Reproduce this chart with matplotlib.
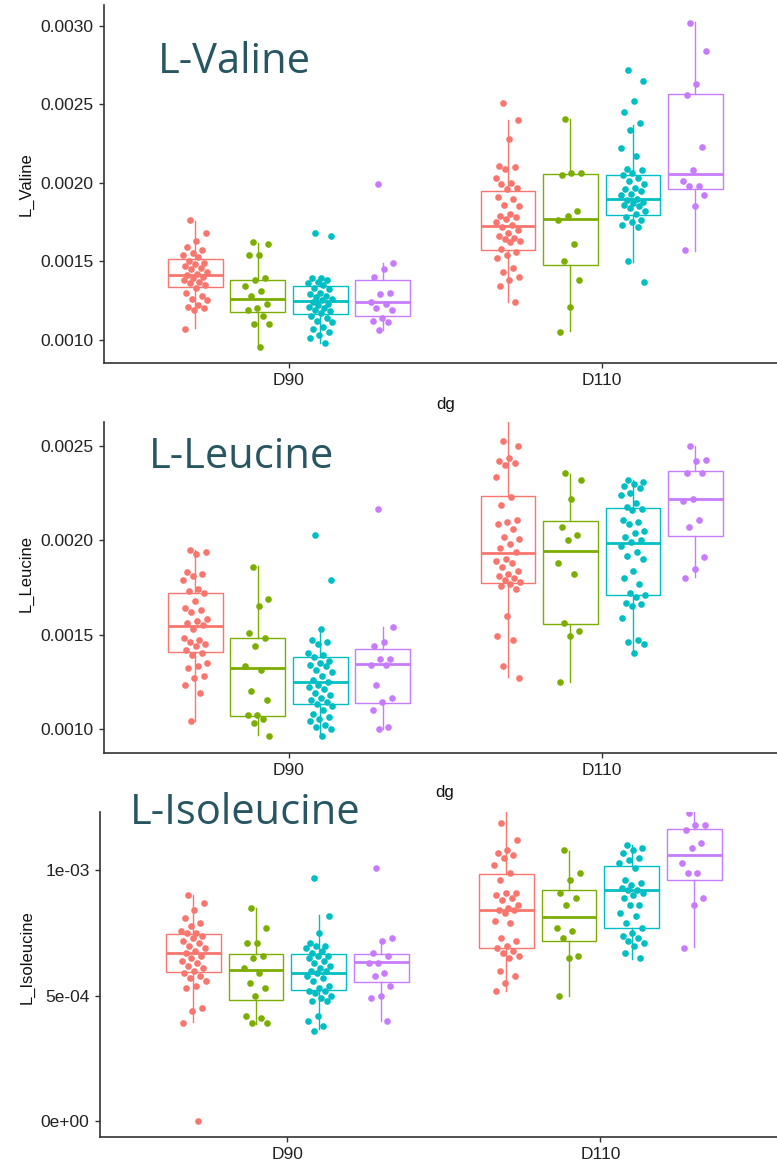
import numpy as np
import matplotlib
matplotlib.use('Agg')
import matplotlib.pyplot as plt

# ggplot default hue colours, one per group
colors = ['#F8766D', '#7CAE00', '#00BFC4', '#C77CFF']
groups = ['D90', 'D110']

# ---- L-Valine ----
val_d90_red = [0.00176, 0.00168, 0.00163, 0.00159, 0.00157, 0.00155, 0.00154, 0.00153, 0.00150, 0.00149, 0.00148,
               0.00147, 0.00146, 0.00145, 0.00143, 0.00142, 0.00141, 0.00140, 0.00139, 0.00138, 0.00137, 0.00136,
               0.00135, 0.00133, 0.00130, 0.00128, 0.00126, 0.00125, 0.00122, 0.00121, 0.00120, 0.00119, 0.00107]
val_d90_green = [0.00162, 0.00161, 0.00154, 0.00154, 0.00139, 0.00138, 0.00134, 0.00131, 0.00128, 0.00123, 0.00120,
                 0.00119, 0.00115, 0.00110, 0.00110, 0.00095]
val_d90_cyan = [0.00168, 0.00166, 0.00139, 0.00139, 0.00138, 0.00137, 0.00136, 0.00135, 0.00133, 0.00132, 0.00130,
                0.00129, 0.00128, 0.00127, 0.00126, 0.00125, 0.00124, 0.00123, 0.00122, 0.00121, 0.00120, 0.00119,
                0.00118, 0.00117, 0.00115, 0.00114, 0.00112, 0.00111, 0.00108, 0.00107, 0.00105, 0.00103, 0.00101, 0.00098]
val_d90_purple = [0.00199, 0.00149, 0.00145, 0.00140, 0.00130, 0.00129, 0.00124, 0.00123, 0.00120, 0.00119, 0.00114,
                  0.00112, 0.00111, 0.00106]
val_d110_red = [0.00251, 0.00240, 0.00228, 0.00211, 0.00210, 0.00209, 0.00203, 0.00200, 0.00199, 0.00197, 0.00196,
                0.00191, 0.00190, 0.00186, 0.00185, 0.00180, 0.00179, 0.00178, 0.00177, 0.00175, 0.00173, 0.00172,
                0.00170, 0.00168, 0.00166, 0.00165, 0.00164, 0.00163, 0.00162, 0.00158, 0.00156, 0.00154, 0.00152,
                0.00146, 0.00143, 0.00140, 0.00138, 0.00134, 0.00124]
val_d110_green = [0.00241, 0.00206, 0.00206, 0.00205, 0.00182, 0.00179, 0.00176, 0.00161, 0.00150, 0.00138, 0.00121,
                  0.00105]
val_d110_cyan = [0.00272, 0.00265, 0.00252, 0.00245, 0.00238, 0.00234, 0.00222, 0.00217, 0.00209, 0.00208, 0.00206,
                 0.00205, 0.00203, 0.00201, 0.00199, 0.00197, 0.00196, 0.00195, 0.00193, 0.00192, 0.00190, 0.00189,
                 0.00188, 0.00187, 0.00186, 0.00185, 0.00184, 0.00182, 0.00180, 0.00178, 0.00176, 0.00175, 0.00173,
                 0.00172, 0.00150, 0.00137]
val_d110_purple = [0.00302, 0.00284, 0.00263, 0.00256, 0.00223, 0.00208, 0.00201, 0.00198, 0.00198, 0.00192, 0.00185,
                   0.00157]
# box stats: q1, median, q3, whisker low, whisker high
val_box_d90 = [(0.001335, 0.001414, 0.001516, 0.001074, 0.001758),
               (0.001178, 0.001261, 0.001378, 0.000947, 0.001616),
               (0.001163, 0.001246, 0.001344, 0.000979, 0.001393),
               (0.001149, 0.001240, 0.001378, 0.001060, 0.001490)]
val_box_d110 = [(0.001573, 0.001726, 0.001945, 0.001238, 0.002400),
                (0.001473, 0.001770, 0.002055, 0.001053, 0.002408),
                (0.001796, 0.001898, 0.002047, 0.001495, 0.002370),
                (0.001960, 0.002055, 0.002569, 0.001567, 0.003023)]
val_ticks = [0.0010, 0.0015, 0.0020, 0.0025, 0.0030]
val_ticklabels = ['0.0010', '0.0015', '0.0020', '0.0025', '0.0030']

# ---- L-Leucine ----
leu_d90_red = [0.00195, 0.00194, 0.00193, 0.00183, 0.00182, 0.00181, 0.00179, 0.00174, 0.00173, 0.00172, 0.00168,
               0.00164, 0.00163, 0.00162, 0.00158, 0.00157, 0.00156, 0.00155, 0.00153, 0.00148, 0.00147, 0.00146,
               0.00145, 0.00144, 0.00142, 0.00140, 0.00139, 0.00135, 0.00133, 0.00132, 0.00128, 0.00127, 0.00123,
               0.00119, 0.00104]
leu_d90_green = [0.00186, 0.00169, 0.00165, 0.00151, 0.00148, 0.00144, 0.00133, 0.00131, 0.00120, 0.00115, 0.00107,
                 0.00107, 0.00105, 0.00103, 0.00096]
leu_d90_cyan = [0.00203, 0.00179, 0.00153, 0.00147, 0.00146, 0.00145, 0.00140, 0.00139, 0.00138, 0.00136, 0.00135,
                0.00134, 0.00133, 0.00131, 0.00130, 0.00128, 0.00126, 0.00125, 0.00123, 0.00122, 0.00121, 0.00119,
                0.00118, 0.00116, 0.00115, 0.00114, 0.00113, 0.00112, 0.00110, 0.00108, 0.00106, 0.00105, 0.00104,
                0.00102, 0.00101, 0.00100, 0.00096]
leu_d90_purple = [0.00217, 0.00154, 0.00146, 0.00144, 0.00137, 0.00137, 0.00134, 0.00134, 0.00123, 0.00116, 0.00114,
                  0.00110, 0.00101, 0.00100]
leu_d110_red = [0.00253, 0.00250, 0.00244, 0.00242, 0.00241, 0.00240, 0.00234, 0.00223, 0.00219, 0.00211, 0.00210,
                0.00209, 0.00206, 0.00202, 0.00201, 0.00198, 0.00196, 0.00194, 0.00190, 0.00189, 0.00188, 0.00186,
                0.00184, 0.00182, 0.00181, 0.00180, 0.00179, 0.00178, 0.00177, 0.00176, 0.00174, 0.00160, 0.00149,
                0.00147, 0.00133, 0.00127]
leu_d110_green = [0.00236, 0.00232, 0.00222, 0.00207, 0.00203, 0.00200, 0.00188, 0.00182, 0.00156, 0.00152, 0.00149,
                  0.00125]
leu_d110_cyan = [0.00232, 0.00231, 0.00230, 0.00229, 0.00228, 0.00225, 0.00224, 0.00220, 0.00218, 0.00217, 0.00216,
                 0.00211, 0.00210, 0.00209, 0.00205, 0.00204, 0.00202, 0.00200, 0.00199, 0.00197, 0.00194, 0.00192,
                 0.00190, 0.00184, 0.00180, 0.00177, 0.00172, 0.00171, 0.00170, 0.00167, 0.00166, 0.00165, 0.00159,
                 0.00147, 0.00146, 0.00145, 0.00140]
leu_d110_purple = [0.00250, 0.00243, 0.00242, 0.00236, 0.00236, 0.00222, 0.00221, 0.00211, 0.00207, 0.00191, 0.00185,
                   0.00180]
leu_box_d90 = [(0.001408, 0.001545, 0.001723, 0.001040, 0.001950),
               (0.001067, 0.001323, 0.001479, 0.000964, 0.001865),
               (0.001128, 0.001245, 0.001378, 0.000956, 0.001529),
               (0.001138, 0.001341, 0.001421, 0.000995, 0.001541)]
leu_box_d110 = [(0.001776, 0.001934, 0.002234, 0.001275, 0.002700),
                (0.001554, 0.001944, 0.002104, 0.001249, 0.002354),
                (0.001710, 0.001987, 0.002172, 0.001405, 0.002319),
                (0.002026, 0.002221, 0.002372, 0.001804, 0.002500)]
leu_ticks = [0.0010, 0.0015, 0.0020, 0.0025]
leu_ticklabels = ['0.0010', '0.0015', '0.0020', '0.0025']

# ---- L-Isoleucine ----
ile_d90_red = [0.00090, 0.00087, 0.00084, 0.00081, 0.00079, 0.00078, 0.00076, 0.00075, 0.00075, 0.00074, 0.00073,
               0.00072, 0.00071, 0.00070, 0.00069, 0.00068, 0.00067, 0.00066, 0.00065, 0.00064, 0.00063, 0.00062,
               0.00061, 0.00060, 0.00059, 0.00058, 0.00057, 0.00056, 0.00054, 0.00053, 0.00045, 0.00044, 0.00039, 0.0]
ile_d90_green = [0.00085, 0.00077, 0.00071, 0.00071, 0.00066, 0.00065, 0.00061, 0.00059, 0.00055, 0.00053, 0.00050,
                 0.00042, 0.00041, 0.00039, 0.00039]
ile_d90_cyan = [0.00097, 0.00082, 0.00075, 0.00071, 0.00070, 0.00070, 0.00069, 0.00068, 0.00067, 0.00066, 0.00066,
                0.00065, 0.00064, 0.00063, 0.00062, 0.00061, 0.00060, 0.00060, 0.00059, 0.00058, 0.00057, 0.00056,
                0.00054, 0.00053, 0.00052, 0.00052, 0.00051, 0.00050, 0.00049, 0.00048, 0.00048, 0.00042, 0.00040,
                0.00038, 0.00036]
ile_d90_purple = [0.00101, 0.00073, 0.00072, 0.00067, 0.00066, 0.00063, 0.00063, 0.00059, 0.00058, 0.00054, 0.00050,
                  0.00049, 0.00040]
ile_d110_red = [0.00119, 0.00112, 0.00108, 0.00107, 0.00106, 0.00105, 0.00102, 0.00099, 0.00096, 0.00091, 0.00091,
                0.00090, 0.00089, 0.00088, 0.00086, 0.00085, 0.00084, 0.00084, 0.00083, 0.00080, 0.00079, 0.00073,
                0.00072, 0.00070, 0.00069, 0.00068, 0.00067, 0.00066, 0.00065, 0.00060, 0.00058, 0.00055, 0.00052]
ile_d110_green = [0.00108, 0.00099, 0.00096, 0.00091, 0.00089, 0.00086, 0.00077, 0.00076, 0.00073, 0.00066, 0.00065,
                  0.00050]
ile_d110_cyan = [0.00110, 0.00109, 0.00108, 0.00107, 0.00105, 0.00104, 0.00103, 0.00101, 0.00096, 0.00095, 0.00094,
                 0.00093, 0.00092, 0.00092, 0.00091, 0.00090, 0.00089, 0.00086, 0.00086, 0.00083, 0.00082, 0.00079,
                 0.00077, 0.00075, 0.00074, 0.00073, 0.00072, 0.00071, 0.00070, 0.00067, 0.00065]
ile_d110_purple = [0.00123, 0.00118, 0.00118, 0.00116, 0.00111, 0.00109, 0.00103, 0.00099, 0.00099, 0.00089, 0.00086,
                   0.00069]
ile_box_d90 = [(0.000593, 0.000669, 0.000747, 0.000395, 0.000900),
               (0.000481, 0.000601, 0.000666, 0.000388, 0.000851),
               (0.000521, 0.000592, 0.000666, 0.000368, 0.000823),
               (0.000553, 0.000634, 0.000666, 0.000400, 0.000725)]
ile_box_d110 = [(0.000690, 0.000840, 0.000985, 0.000519, 0.001300),
                (0.000717, 0.000814, 0.000923, 0.000500, 0.001077),
                (0.000771, 0.000923, 0.001017, 0.000645, 0.001100),
                (0.000960, 0.001060, 0.001166, 0.000694, 0.001300)]
ile_ticks = [0.0, 0.0005, 0.0010]
ile_ticklabels = ['0e+00', '5e-04', '1e-03']

W, H = 777, 1166
dodge = [-0.3, -0.1, 0.1, 0.3]
axis_col = '#333333'
title_col = '#275662'


def rect(left, top, bottom):
    return [left / W, 1 - bottom / H, (W - left) / W, (bottom - top) / H]


def panel(fig, box_rect, pts, boxes, ylim, xlim, ticks, ticklabels):
    ax = fig.add_axes(box_rect)
    for g in range(2):
        for k in range(4):
            c = colors[k]
            pos = g + 1 + dodge[k]
            q1, med, q3, lo, hi = boxes[g][k]
            ax.bxp([dict(med=med, q1=q1, q3=q3, whislo=lo, whishi=hi, fliers=[])],
                   positions=[pos], widths=0.175, showfliers=False, showcaps=False,
                   patch_artist=True, manage_ticks=False,
                   boxprops=dict(facecolor='white', edgecolor=c, linewidth=1.0),
                   whiskerprops=dict(color=c, linewidth=1.0),
                   medianprops=dict(color=c, linewidth=2.0), zorder=2)
            ys = np.array(pts[g][k])
            idx = np.arange(len(ys))
            jit = ((idx * 0.618034 + 0.3) % 1 - 0.5) * 0.08
            ax.scatter(pos + jit, ys, s=23, color=c, linewidths=0, zorder=3)
    ax.set_xlim(*xlim)
    ax.set_ylim(*ylim)
    ax.set_xticks([1, 2])
    ax.set_xticklabels(groups)
    ax.set_yticks(ticks)
    ax.set_yticklabels(ticklabels)
    for s in ['top', 'right']:
        ax.spines[s].set_visible(False)
    for s in ['left', 'bottom']:
        ax.spines[s].set_color(axis_col)
        ax.spines[s].set_linewidth(1.2)
    ax.tick_params(axis='both', length=3.5, width=1.0, color=axis_col, labelcolor='#222222',
                   labelsize=12.5, pad=4)
    for lab in ax.get_xticklabels() + ax.get_yticklabels():
        lab.set_family('Liberation Sans')
    return ax


fig = plt.figure(figsize=(W / 100, H / 100), dpi=100)

panel(fig, rect(104, 5, 363),
      [[val_d90_red, val_d90_green, val_d90_cyan, val_d90_purple],
       [val_d110_red, val_d110_green, val_d110_cyan, val_d110_purple]],
      [val_box_d90, val_box_d110], (0.000851, 0.003134), (0.408, 2.561), val_ticks, val_ticklabels)
panel(fig, rect(104, 422, 753),
      [[leu_d90_red, leu_d90_green, leu_d90_cyan, leu_d90_purple],
       [leu_d110_red, leu_d110_green, leu_d110_cyan, leu_d110_purple]],
      [leu_box_d90, leu_box_d110], (0.00087, 0.00263), (0.408, 2.561), leu_ticks, leu_ticklabels)
panel(fig, rect(100, 812, 1137),
      [[ile_d90_red, ile_d90_green, ile_d90_cyan, ile_d90_purple],
       [ile_d110_red, ile_d110_green, ile_d110_cyan, ile_d110_purple]],
      [ile_box_d90, ile_box_d110], (-0.0000638, 0.001233), (0.402, 2.564), ile_ticks, ile_ticklabels)

# axis titles
lab_kw = dict(fontsize=12, color='#111111', family='Liberation Sans', ha='center', va='center')
fig.text(26 / W, 1 - 184 / H, 'L_Valine', rotation=90, **lab_kw)
fig.text(26 / W, 1 - 574 / H, 'L_Leucine', rotation=90, **lab_kw)
fig.text(27 / W, 1 - 957 / H, 'L_Isoleucine', rotation=90, **lab_kw)
fig.text(446 / W, 1 - 405 / H, 'dg', **lab_kw)
fig.text(445 / W, 1 - 793 / H, 'dg', **lab_kw)

# big panel titles
t_kw = dict(fontsize=30, color=title_col, family='Open Sans', ha='left', va='baseline')
fig.text(158 / W, 1 - 73 / H, 'L-Valine', **t_kw)
fig.text(149 / W, 1 - 468 / H, 'L-Leucine', **t_kw)
fig.text(130 / W, 1 - 824 / H, 'L-Isoleucine', **t_kw)

fig.savefig('out.png', dpi=100)
